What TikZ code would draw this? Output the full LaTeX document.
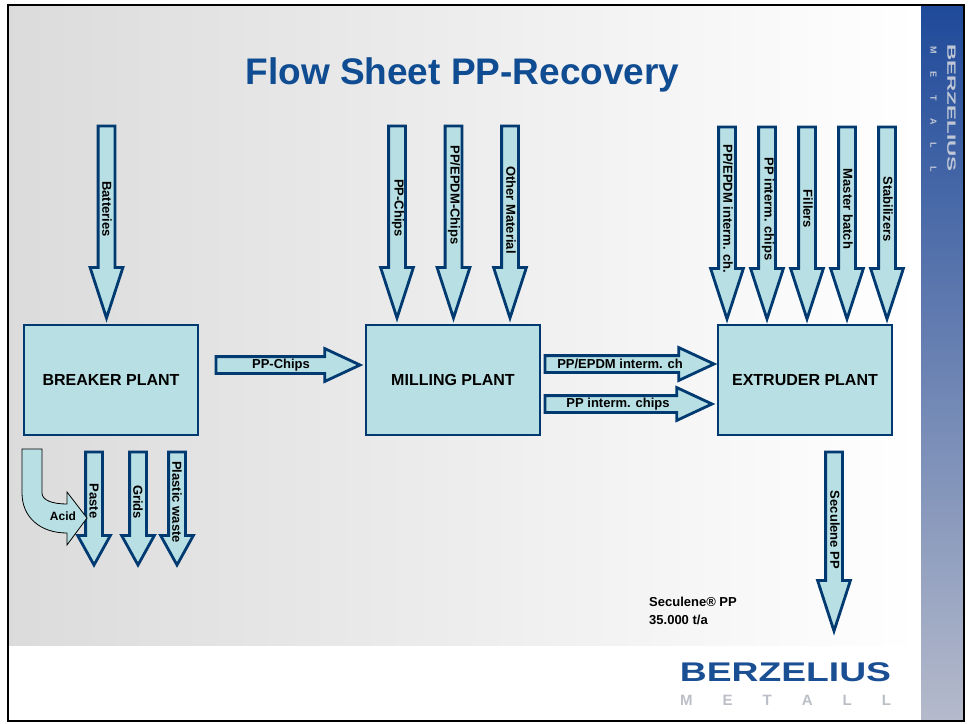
\documentclass[tikz,border=0pt]{standalone}
\usepackage{fontspec}
\setmainfont{Liberation Sans}
\usetikzlibrary{positioning}
\usetikzlibrary{shapes.arrows}
\definecolor{plantfill}{HTML}{B8DFE3}
\definecolor{flowline}{HTML}{003A70}
\definecolor{titleblue}{HTML}{0F4C91}
\definecolor{logoblue}{HTML}{1B4F93}
\definecolor{logogray}{HTML}{BCBFC7}
\definecolor{bartop}{HTML}{1F4A9A}
\definecolor{barmid}{HTML}{6E7FB0}
\definecolor{barlow}{HTML}{B5BACB}
\definecolor{barlight}{HTML}{BFC7D6}
\tikzstyle{plant} = [draw=flowline, fill=plantfill, line width=2.5pt, rectangle, minimum height=110pt, minimum width=174pt, outer sep=0pt, font=\fontsize{16}{18}\selectfont\bfseries]
\tikzstyle{flow} = [draw=flowline, fill=plantfill, line width=2.8pt, single arrow, inner xsep=0pt, inner ysep=7pt, outer sep=0pt, single arrow head extend=8pt, minimum width=30pt, anchor=tip]
\tikzstyle{feed} = [flow, rotate=-90, minimum height=192pt, single arrow tip angle=36]
\tikzstyle{waste} = [flow, rotate=-90, minimum height=113pt, single arrow tip angle=58]
\tikzstyle{transfer} = [flow, single arrow tip angle=50]
\tikzstyle{tag} = [inner sep=0pt, font=\fontsize{13}{15}\selectfont\bfseries]
\tikzstyle{vtag} = [tag, rotate=-90]
\begin{document}
\begin{tikzpicture}[x=1pt,y=-1pt]
    \useasboundingbox (0,0) rectangle (969,723);
    \fill[white] (0,0) rectangle (969,723);
    \shade[left color=black!14, middle color=black!4, right color=white] (8,5) rectangle (921,645);
    \shade[top color=bartop, middle color=barmid, bottom color=barlow] (921,5) rectangle (963,721);
    \draw[line width=2pt] (8,5) rectangle (964,721);

    \node [text=titleblue, inner sep=0pt, font=\fontsize{37}{40}\selectfont\bfseries] (title) at (462.5,75) {Flow Sheet PP-Recovery};

    \node [plant] (breaker) at (111,380) {BREAKER PLANT};
    \node [plant, right=168pt of breaker] (milling) {MILLING PLANT};
    \node [plant, right=178pt of milling] (extruder) {EXTRUDER PLANT};

    \node [feed] (batteries) at (106.5,318) {};
    \node [feed] (chipsin) at (397,318) {};
    \node [feed] (epdmin) at (453.5,318) {};
    \node [feed] (other) at (510,318) {};
    \node [feed] (epdmint) at (727,319) {};
    \node [feed] (ppint) at (767,319) {};
    \node [feed] (fillers) at (807,319) {};
    \node [feed] (master) at (847,319) {};
    \node [feed] (stabil) at (887,319) {};

    \node [waste] (paste) at (94,565) {};
    \node [waste] (grids) at (138,565) {};
    \node [waste] (plastic) at (177,565) {};
    \node [feed, minimum height=179pt] (seculene) at (834,631) {};

    \node [transfer, minimum height=144pt] (chipsout) at (360,365) {};
    \node [transfer, minimum height=169pt] (epdmout) at (714,364) {};
    \node [transfer, minimum height=167pt] (ppout) at (712,404) {};

    \draw[black, fill=plantfill, line width=0.8pt] (22,449) -- (42,449) -- (42,493) .. controls (42,500) and (52,504) .. (67,504) -- (67,492) -- (87,518) -- (67,545) -- (67,533) .. controls (40,533) and (22,517) .. (22,493) -- cycle;

    \node [vtag] (batterieslabel) at (107,209) {Batteries};
    \node [vtag] (chipsinlabel) at (398,208) {PP-Chips};
    \node [vtag] (epdminlabel) at (454,195) {PP/EPDM-Chips};
    \node [vtag] (otherlabel) at (511,210) {Other Material};
    \node [vtag] (epdmintlabel) at (728,209) {PP/EPDM interm. ch.};
    \node [vtag] (ppintlabel) at (768,209) {PP interm. chips};
    \node [vtag] (fillerslabel) at (808,209) {Fillers};
    \node [vtag] (masterlabel) at (848,209) {Master batch};
    \node [vtag] (stabillabel) at (888,209) {Stabilizers};
    \node [vtag] (pastelabel) at (94,501) {Paste};
    \node [vtag] (gridslabel) at (138,502) {Grids};
    \node [vtag] (plasticlabel) at (177,502) {Plastic waste};
    \node [vtag] (seculenelabel) at (835,530) {Seculene PP};
    \node [tag] (chipsoutlabel) at (281,365) {PP-Chips};
    \node [tag] (epdmoutlabel) at (620,364) {PP/EPDM interm. ch};
    \node [tag] (ppoutlabel) at (618,404) {PP interm. chips};
    \node [tag, font=\fontsize{12}{14}\selectfont\bfseries] (acidlabel) at (63,516) {Acid};
    \node [tag, align=left, anchor=north west, font=\fontsize{13}{18}\selectfont\bfseries] (capacity) at (649,597) {Seculene® PP\\35.000 t/a};

    \node [text=logoblue, inner sep=0pt, font=\fontsize{27}{30}\selectfont\bfseries] (logo) at (785.5,672) {\scalebox{1.38}[1]{BERZELIUS}};
    \node [text=logogray, inner sep=0pt, text width=211pt, font=\fontsize{15}{17}\selectfont\bfseries] (logosub) at (785.5,700.5) {M\hfill E\hfill T\hfill A\hfill L\hfill L};
    \node [text=barlight, inner sep=0pt, rotate=-90, font=\fontsize{12}{14}\selectfont\bfseries] (barlogo) at (951.5,108) {\scalebox{1.87}[1]{BERZELIUS}};
    \node [text=barlight, inner sep=0pt, rotate=-90, text width=125pt, font=\fontsize{9}{10}\selectfont\bfseries] (barsub) at (933.5,109) {M\hfill E\hfill T\hfill A\hfill L\hfill L};
\end{tikzpicture}
\end{document}
